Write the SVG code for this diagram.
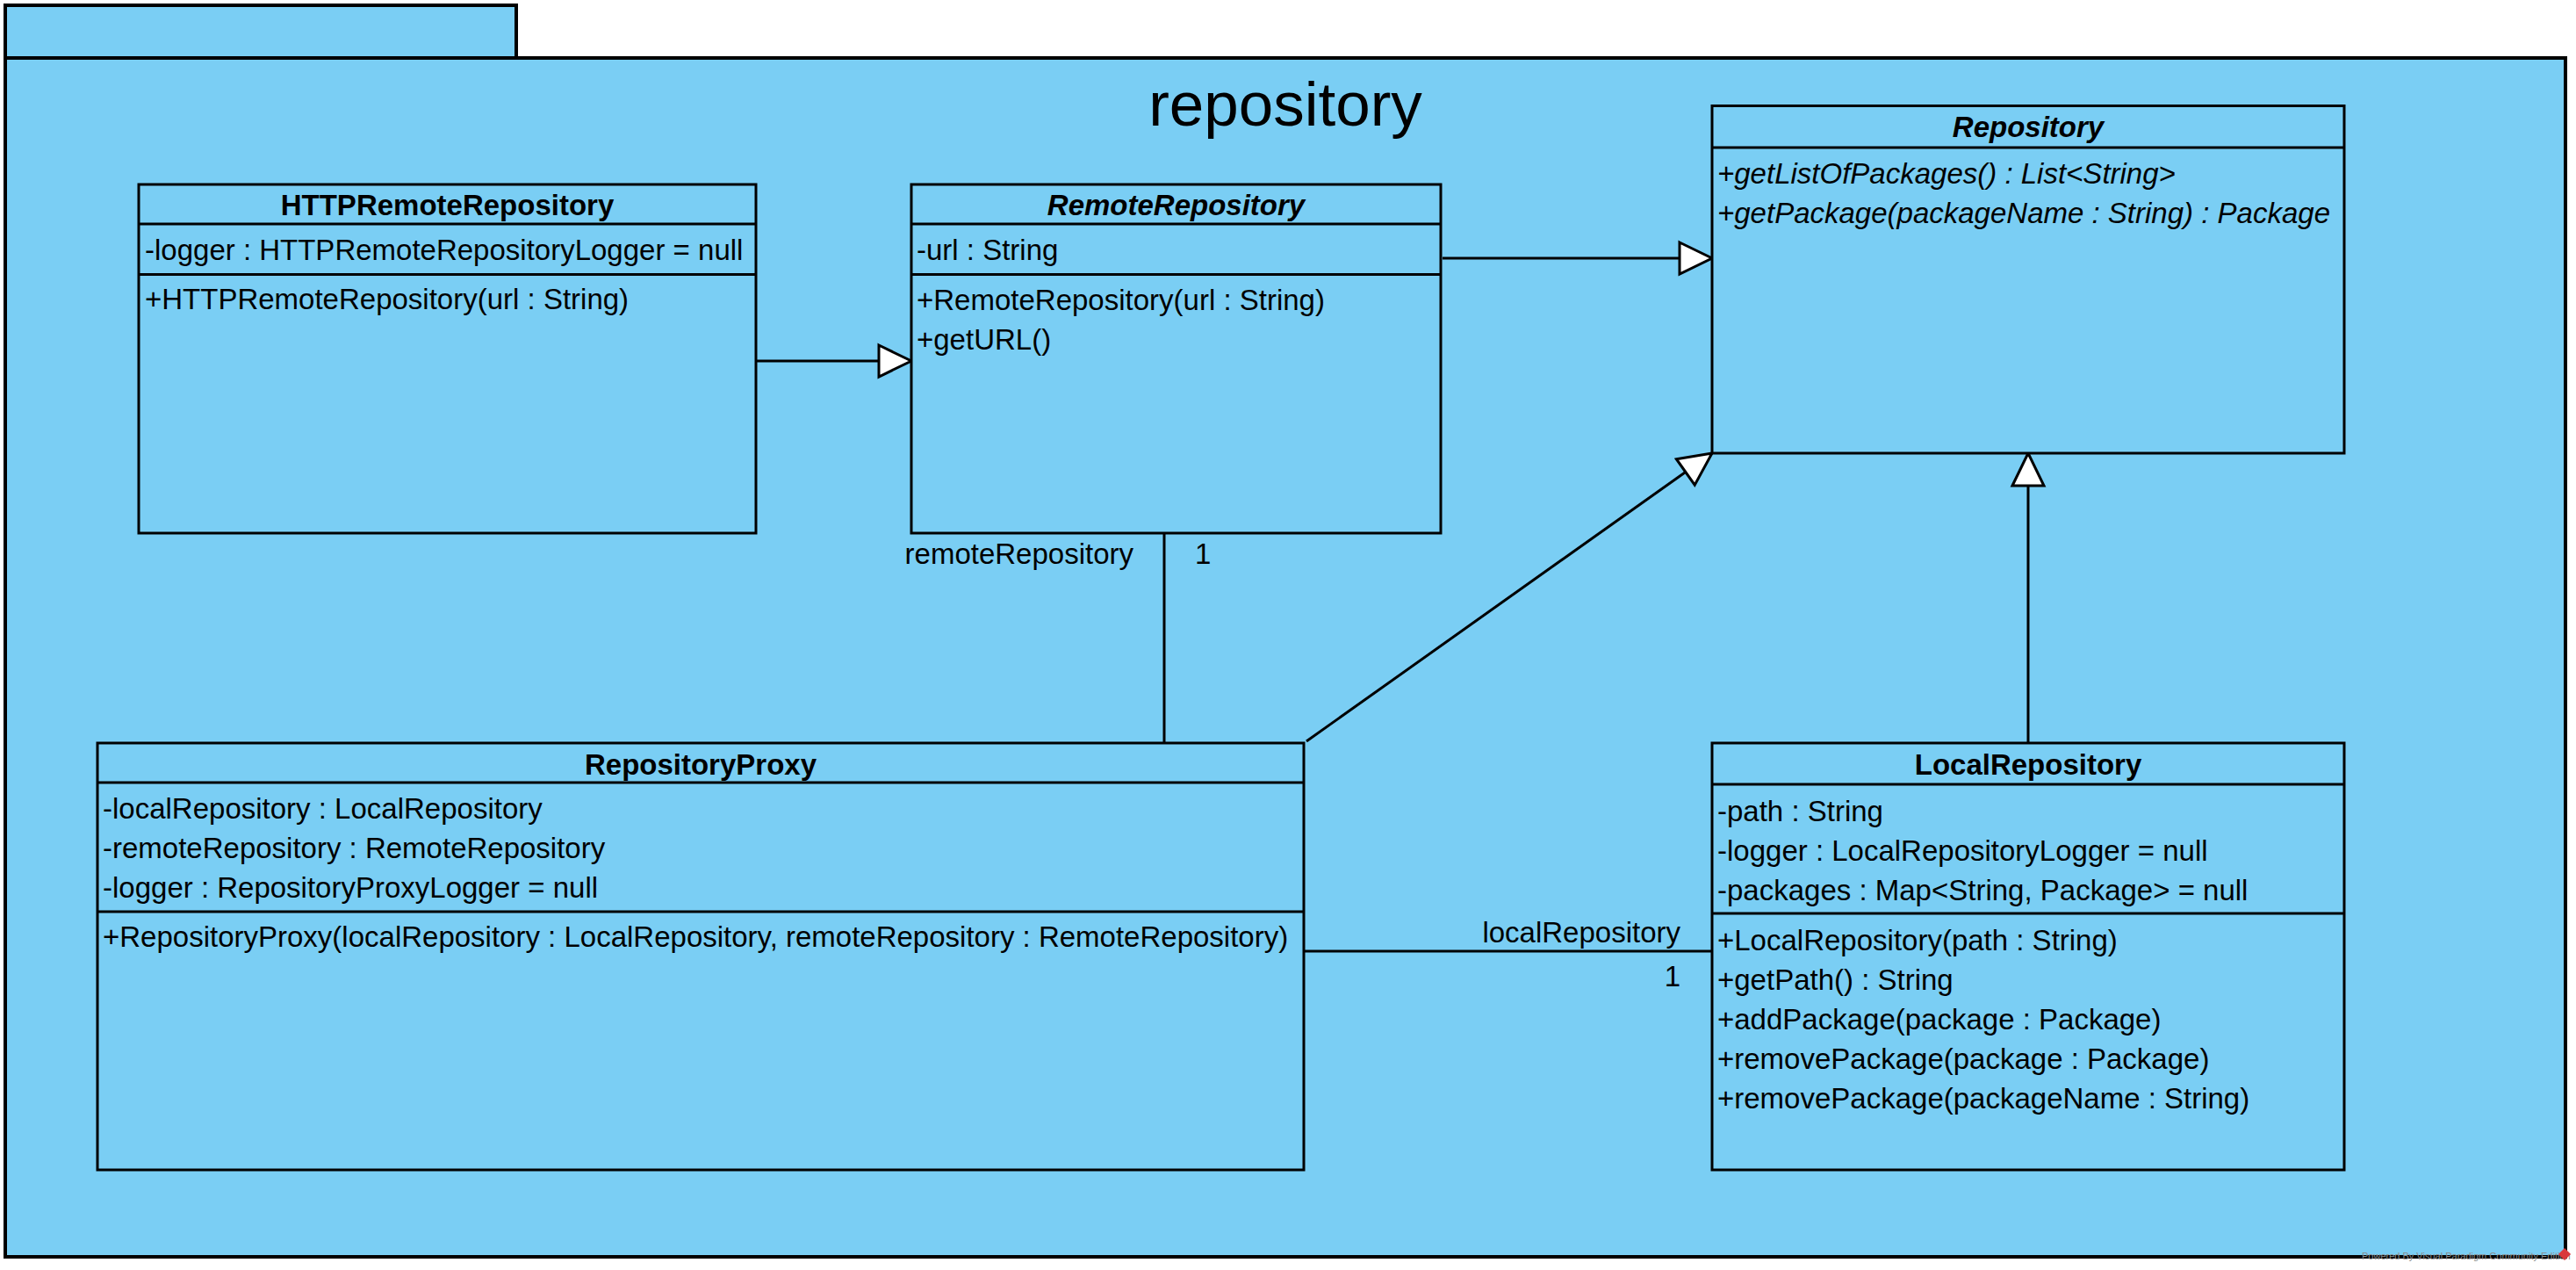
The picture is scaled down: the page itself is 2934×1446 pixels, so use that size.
<svg xmlns="http://www.w3.org/2000/svg" width="2934" height="1446" viewBox="0 0 2934 1446">
<style>
.box{fill:#7ACEF4;stroke:#000;stroke-width:3}
.div{stroke:#000;stroke-width:3}
.t{font-family:"Liberation Sans",Arial,sans-serif;font-size:33px;fill:#000}
.b{font-weight:bold}
.i{font-style:italic}
.c{text-anchor:middle}
.r{text-anchor:end}
.ln{stroke:#000;stroke-width:3;fill:none}
.gen{marker-end:url(#tri)}
</style>
<defs>
<marker id="tri" markerUnits="userSpaceOnUse" viewBox="-2 -2 41 40" markerWidth="41" markerHeight="40" refX="37" refY="18" orient="auto" overflow="visible">
<path d="M0,0 L37,18 L0,36 Z" fill="#fff" stroke="#000" stroke-width="3" stroke-linejoin="miter"/>
</marker>
</defs>
<rect width="2934" height="1446" fill="#fff"/>
<g id="package-repository">
<rect x="6" y="6" width="582" height="60" fill="#7ACEF4" stroke="#000" stroke-width="4"/>
<rect x="6" y="66" width="2916" height="1365" fill="#7ACEF4" stroke="#000" stroke-width="4"/>
<text x="1464" y="143" font-family="Liberation Sans, Arial, sans-serif" font-size="71" text-anchor="middle">repository</text>
</g>
<g id="connectors">
<line class="ln gen" x1="861" y1="411" x2="1038" y2="411"/>
<line class="ln gen" x1="1643" y1="294" x2="1950" y2="294"/>
<line class="ln gen" x1="1488" y1="844" x2="1950" y2="516"/>
<line class="ln gen" x1="2310" y1="846" x2="2310" y2="516"/>
<line class="ln" x1="1326" y1="604" x2="1326" y2="845"/>
<text class="t r" x="1291" y="642">remoteRepository</text>
<text class="t" x="1361" y="642">1</text>
<line class="ln" x1="1485" y1="1083" x2="1950" y2="1083"/>
<text class="t r" x="1914" y="1073">localRepository</text>
<text class="t r" x="1914" y="1123">1</text>
</g>
<g id="HTTPRemoteRepository">
<rect class="box" x="158" y="210" width="703" height="397"/>
<line class="div" x1="158" y1="255" x2="861" y2="255"/>
<line class="div" x1="158" y1="312.5" x2="861" y2="312.5"/>
<text class="t b c" x="509.5" y="245">HTTPRemoteRepository</text>
<text class="t" x="165" y="296">-logger : HTTPRemoteRepositoryLogger = null</text>
<text class="t" x="165" y="352">+HTTPRemoteRepository(url : String)</text>
</g>
<g id="RemoteRepository">
<rect class="box" x="1038" y="210" width="603" height="397"/>
<line class="div" x1="1038" y1="255" x2="1641" y2="255"/>
<line class="div" x1="1038" y1="312.5" x2="1641" y2="312.5"/>
<text class="t b i c" x="1339.5" y="245">RemoteRepository</text>
<text class="t" x="1044" y="296">-url : String</text>
<text class="t" x="1044" y="353">+RemoteRepository(url : String)</text>
<text class="t" x="1044" y="398">+getURL()</text>
</g>
<g id="Repository">
<rect class="box" x="1950" y="120.5" width="720" height="395.5"/>
<line class="div" x1="1950" y1="168" x2="2670" y2="168"/>
<text class="t b i c" x="2310" y="156">Repository</text>
<text class="t i" x="1956" y="209">+getListOfPackages() : List&lt;String&gt;</text>
<text class="t i" x="1956" y="254">+getPackage(packageName : String) : Package</text>
</g>
<g id="RepositoryProxy">
<rect class="box" x="111" y="846" width="1374" height="486"/>
<line class="div" x1="111" y1="891" x2="1485" y2="891"/>
<line class="div" x1="111" y1="1038" x2="1485" y2="1038"/>
<text class="t b c" x="798" y="882">RepositoryProxy</text>
<text class="t" x="117" y="932">-localRepository : LocalRepository</text>
<text class="t" x="117" y="977">-remoteRepository : RemoteRepository</text>
<text class="t" x="117" y="1022">-logger : RepositoryProxyLogger = null</text>
<text class="t" x="117" y="1078">+RepositoryProxy(localRepository : LocalRepository, remoteRepository : RemoteRepository)</text>
</g>
<g id="LocalRepository">
<rect class="box" x="1950" y="846" width="720" height="486"/>
<line class="div" x1="1950" y1="893" x2="2670" y2="893"/>
<line class="div" x1="1950" y1="1040" x2="2670" y2="1040"/>
<text class="t b c" x="2310" y="882">LocalRepository</text>
<text class="t" x="1956" y="935">-path : String</text>
<text class="t" x="1956" y="980">-logger : LocalRepositoryLogger = null</text>
<text class="t" x="1956" y="1025">-packages : Map&lt;String, Package&gt; = null</text>
<text class="t" x="1956" y="1082">+LocalRepository(path : String)</text>
<text class="t" x="1956" y="1127">+getPath() : String</text>
<text class="t" x="1956" y="1172">+addPackage(package : Package)</text>
<text class="t" x="1956" y="1217">+removePackage(package : Package)</text>
<text class="t" x="1956" y="1262">+removePackage(packageName : String)</text>
</g>
<g id="watermark">
<text x="2690" y="1434" font-family="Liberation Sans, Arial, sans-serif" font-size="11" fill="#8a8a8a">Powered By Visual Paradigm Community Edition</text>
<rect x="2916" y="1423" width="10" height="10" fill="#d9393b" transform="rotate(45 2921 1428)"/>
</g>
</svg>
